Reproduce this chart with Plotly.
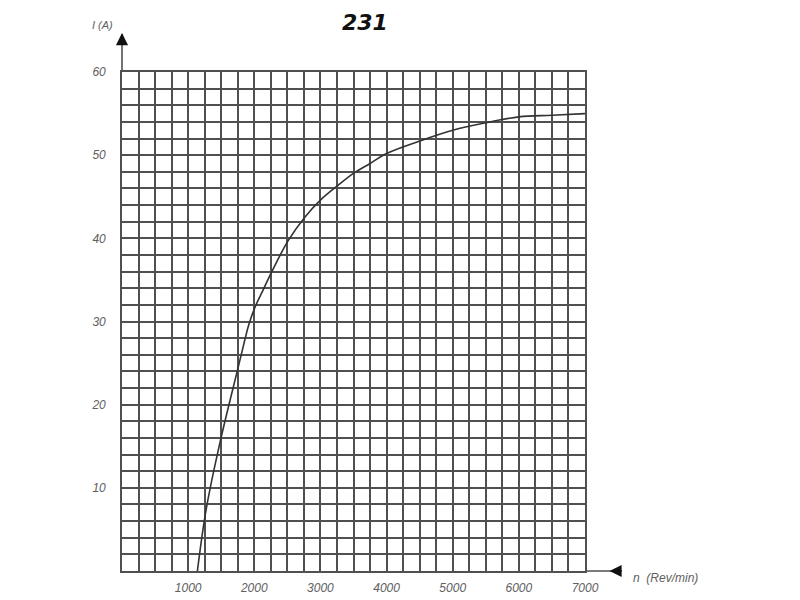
import plotly.graph_objects as go

# Data
speed_rpm = [1140, 1270, 1480, 1760, 1860, 1920, 2010, 2140, 2260, 2510, 2770,
             3000, 3270, 3500, 3750, 4000, 4500, 5000, 5500, 6000, 6500, 7000]
current_a = [0.0, 7.3, 15.4, 24.6, 27.9, 29.7, 31.7, 33.9, 35.9, 39.7, 42.6,
             44.6, 46.4, 47.8, 49.0, 50.2, 51.7, 53.0, 53.9, 54.6, 54.8, 55.0]
x_ticks = [1000, 2000, 3000, 4000, 5000, 6000, 7000]
y_ticks = [10, 20, 30, 40, 50, 60]

title_text = "231"
x_label = "n  (Rev/min)"
y_label = "I (A)"

grid_color = "#505050"
label_font = dict(family="Liberation Sans", size=12, color="#606060", style="italic")

fig = go.Figure()
fig.add_trace(go.Scatter(
    x=speed_rpm, y=current_a, mode="lines",
    line=dict(color="#333333", width=1.6, shape="spline", smoothing=1.0),
    showlegend=False, cliponaxis=False,
))

axis_common = dict(
    showgrid=True, gridcolor=grid_color, gridwidth=1.6,
    showline=True, linecolor=grid_color, linewidth=1.6, mirror=True,
    zeroline=False, ticks="outside", tickcolor="rgba(0,0,0,0)",
    tickfont=label_font, fixedrange=True, automargin=False,
)

fig.update_layout(
    width=800, height=600,
    margin=dict(l=114, r=223, t=64, b=37),
    paper_bgcolor="white", plot_bgcolor="white",
    xaxis=dict(range=[0, 7000], tickvals=x_ticks, ticklen=5,
               minor=dict(dtick=250, showgrid=True, gridcolor=grid_color, gridwidth=1.6),
               **axis_common),
    yaxis=dict(range=[0, 60], tickvals=y_ticks, ticklen=12,
               minor=dict(dtick=2, showgrid=True, gridcolor=grid_color, gridwidth=1.6),
               **axis_common),
    shapes=[
        # y-axis extension upward
        dict(type="line", xref="paper", yref="paper", x0=0, x1=0, y0=1, y1=1.076,
             line=dict(color=grid_color, width=1.6)),
        # x-axis extension to the right
        dict(type="line", xref="paper", yref="paper", x0=1, x1=1.08, y0=0, y1=0,
             line=dict(color=grid_color, width=1.6)),
    ],
    annotations=[
        dict(text=title_text, xref="paper", yref="paper", x=0.525, y=1.1,
             xanchor="center", yanchor="middle", showarrow=False,
             font=dict(family="DejaVu Sans", size=22, color="#111111",
                       weight="bold", style="italic")),
        dict(text=y_label, xref="paper", yref="paper", x=-0.015, y=1.094,
             xanchor="right", yanchor="middle", showarrow=False,
             font=dict(family="Liberation Sans", size=11, color="#606060", style="italic")),
        dict(text=x_label, xref="paper", yref="paper", x=1.1, y=-0.014,
             xanchor="left", yanchor="middle", showarrow=False,
             font=dict(family="Liberation Sans", size=12, color="#606060", style="italic")),
        # arrow heads
        dict(text="", xref="paper", yref="paper", x=0, y=1.078, ax=0, ay=12,
             showarrow=True, arrowhead=2, arrowsize=1.1, arrowwidth=2.2, arrowcolor="#111111"),
        dict(text="", xref="paper", yref="paper", x=1.053, y=0, ax=12, ay=0,
             showarrow=True, arrowhead=2, arrowsize=1.1, arrowwidth=2.2, arrowcolor="#111111"),
    ],
)

fig.write_html("out.html")
